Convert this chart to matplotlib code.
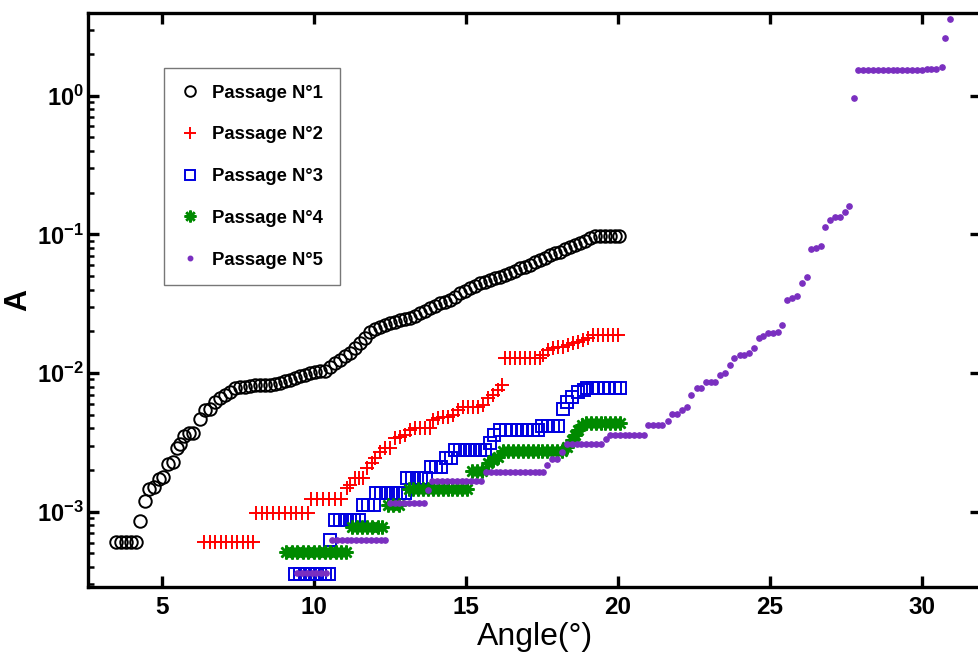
import math
import matplotlib
matplotlib.use("Agg")
import matplotlib.pyplot as plt
from matplotlib import font_manager
from matplotlib.ticker import FixedLocator, FuncFormatter, LogLocator, NullFormatter

# --- data (angle in degrees, A on log scale) ---
p1_x = [3.50, 3.67, 3.84, 4.00, 4.17, 4.30, 4.45, 4.60, 4.74, 4.93, 5.05, 5.22, 5.36,
        5.50, 5.62, 5.75, 5.90, 6.04, 6.26, 6.43, 6.59, 6.75, 6.92, 7.08, 7.25, 7.41,
        7.58, 7.74, 7.91, 8.07, 8.23, 8.40, 8.56, 8.72, 8.89, 9.05, 9.22, 9.38, 9.55,
        9.71, 9.88, 10.04, 10.20, 10.37, 10.54, 10.70, 10.87, 11.04, 11.20, 11.36,
        11.52, 11.69, 11.85, 12.02, 12.18, 12.35, 12.51, 12.67, 12.84, 13.00, 13.17,
        13.33, 13.50, 13.66, 13.82, 13.98, 14.15, 14.31, 14.48, 14.64, 14.81, 14.97,
        15.14, 15.30, 15.47, 15.63, 15.80, 15.96, 16.13, 16.29, 16.45, 16.62, 16.78,
        16.95, 17.11, 17.27, 17.44, 17.60, 17.77, 17.93, 18.10, 18.26, 18.42, 18.59,
        18.75, 18.91, 19.08, 19.24, 19.40, 19.57, 19.73, 19.89, 20.05]
p1_y = [6.1e-4, 6.1e-4, 6.1e-4, 6.1e-4, 6.1e-4, 8.6e-4, 1.20e-3, 1.45e-3, 1.50e-3,
        1.72e-3, 1.77e-3, 2.20e-3, 2.27e-3, 2.90e-3, 3.10e-3, 3.50e-3, 3.70e-3, 3.70e-3,
        4.70e-3, 5.40e-3, 5.55e-3, 6.20e-3, 6.60e-3, 6.95e-3, 7.30e-3, 7.75e-3, 7.90e-3,
        7.90e-3, 8.10e-3, 8.20e-3, 8.20e-3, 8.20e-3, 8.25e-3, 8.30e-3, 8.50e-3, 8.70e-3,
        8.90e-3, 9.20e-3, 9.50e-3, 9.75e-3, 9.95e-3, 1.01e-2, 1.03e-2, 1.04e-2, 1.11e-2,
        1.18e-2, 1.24e-2, 1.32e-2, 1.39e-2, 1.52e-2, 1.64e-2, 1.78e-2, 1.99e-2, 2.08e-2,
        2.16e-2, 2.22e-2, 2.29e-2, 2.35e-2, 2.42e-2, 2.45e-2, 2.48e-2, 2.58e-2, 2.70e-2,
        2.82e-2, 2.93e-2, 3.05e-2, 3.18e-2, 3.27e-2, 3.36e-2, 3.55e-2, 3.76e-2, 3.92e-2,
        4.08e-2, 4.25e-2, 4.44e-2, 4.56e-2, 4.69e-2, 4.82e-2, 4.95e-2, 5.10e-2, 5.24e-2,
        5.45e-2, 5.69e-2, 5.84e-2, 6.01e-2, 6.30e-2, 6.53e-2, 6.80e-2, 7.10e-2, 7.30e-2,
        7.50e-2, 7.80e-2, 8.10e-2, 8.40e-2, 8.70e-2, 9.00e-2, 9.40e-2, 9.70e-2, 9.80e-2,
        9.80e-2, 9.80e-2, 9.80e-2, 9.80e-2]

p2_x = [6.40, 6.58, 6.76, 6.94, 7.12, 7.30, 7.48, 7.66, 7.84, 8.02,
        8.10, 8.29, 8.48, 8.67, 8.86, 9.05, 9.24, 9.43, 9.62, 9.81,
        9.90, 10.10, 10.30, 10.50, 10.70, 10.90,
        11.09, 11.19, 11.36, 11.50, 11.63, 11.74, 11.91, 12.02, 12.18, 12.34, 12.51,
        12.67, 12.84, 13.00, 13.17, 13.33, 13.50, 13.66, 13.82, 13.93, 14.10, 14.26,
        14.42, 14.59, 14.75, 14.91, 15.08, 15.25, 15.41, 15.58, 15.74, 15.91, 16.07,
        16.18, 16.29, 16.45, 16.62, 16.78, 16.95, 17.11, 17.27, 17.44, 17.55, 17.71,
        17.88, 18.04, 18.20, 18.37, 18.53, 18.70, 18.86, 19.02, 19.19, 19.35, 19.52,
        19.68, 19.85, 20.01]
p2_y = [6.1e-4] * 10 + [9.75e-4] * 10 + [1.23e-3] * 6 + [
        1.48e-3, 1.56e-3, 1.74e-3, 1.74e-3, 1.74e-3, 2.06e-3, 2.23e-3, 2.43e-3, 2.71e-3,
        2.86e-3, 2.86e-3, 3.38e-3, 3.48e-3, 3.57e-3, 3.88e-3, 3.99e-3, 3.99e-3, 3.99e-3,
        3.99e-3, 4.58e-3, 4.71e-3, 4.84e-3, 4.84e-3, 4.98e-3, 5.41e-3, 5.71e-3, 5.71e-3,
        5.71e-3, 5.71e-3, 5.87e-3, 6.58e-3, 6.95e-3, 7.55e-3, 8.20e-3,
        1.28e-2, 1.28e-2, 1.28e-2, 1.28e-2, 1.28e-2, 1.28e-2, 1.28e-2, 1.28e-2,
        1.35e-2, 1.47e-2, 1.51e-2, 1.55e-2, 1.55e-2, 1.59e-2, 1.64e-2, 1.68e-2, 1.73e-2,
        1.78e-2, 1.88e-2, 1.88e-2, 1.88e-2, 1.88e-2, 1.88e-2, 1.88e-2]

p3_x = [9.40, 9.56, 9.72, 9.88, 10.04, 10.20, 10.36, 10.50, 10.54,
        10.70, 10.86, 11.02, 11.18, 11.34, 11.50, 11.62, 11.80, 11.98,
        12.05, 12.21, 12.37, 12.53, 12.69, 12.85, 13.01,
        13.06, 13.22, 13.38, 13.54, 13.70, 13.86, 14.02, 14.18, 14.34, 14.50,
        14.66, 14.82, 14.98, 15.14, 15.30, 15.46, 15.62, 15.78, 15.94,
        16.13, 16.31, 16.49, 16.67, 16.84, 17.02, 17.20, 17.38,
        17.52, 17.69, 17.86, 18.03, 18.19, 18.32, 18.48, 18.70, 18.87,
        19.00, 19.18, 19.36, 19.54, 19.72, 19.90, 20.08]
p3_y = [3.55e-4] * 8 + [6.25e-4] + [8.7e-4] * 6 + [1.12e-3] * 3 + [1.37e-3] * 7 + \
       [1.76e-3] * 5 + [2.11e-3] * 3 + [2.43e-3] * 2 + [2.79e-3] * 7 + \
       [3.11e-3, 3.57e-3] + [3.88e-3] * 8 + [4.15e-3] * 4 + \
       [5.47e-3, 6.21e-3, 6.75e-3, 7.33e-3, 7.55e-3] + [7.84e-3] * 7

p4_x = [9.10, 9.28, 9.46, 9.64, 9.82, 10.00, 10.18, 10.36, 10.54, 10.72, 10.90, 11.05,
        11.25, 11.42, 11.59, 11.76, 11.93, 12.10, 12.25,
        12.45, 12.62, 12.79,
        13.12, 13.28, 13.44, 13.60, 13.76, 13.92, 14.08, 14.24, 14.40, 14.56, 14.72,
        14.88, 15.04, 15.20, 15.36, 15.52, 15.74, 15.91, 16.07,
        16.23, 16.40, 16.56, 16.72, 16.88, 17.04, 17.20, 17.36, 17.52, 17.68, 17.84,
        18.00, 18.16, 18.32, 18.48, 18.59, 18.70, 18.81,
        18.95, 19.11, 19.27, 19.43, 19.59, 19.75, 19.91, 20.07]
p4_y = [5.15e-4] * 12 + [7.7e-4] * 7 + [1.12e-3] * 3 + [1.45e-3] * 13 + \
       [1.98e-3] * 3 + [2.23e-3, 2.36e-3, 2.49e-3] + [2.74e-3] * 13 + \
       [2.94e-3, 3.29e-3, 3.57e-3, 3.88e-3, 4.22e-3] + [4.34e-3] * 8

p5_x = [9.45, 9.61, 9.77, 9.93, 10.09, 10.25, 10.41,
        10.60, 10.76, 10.92, 11.08, 11.24, 11.40, 11.56, 11.72, 11.88, 12.04, 12.20, 12.36,
        12.50, 12.66, 12.82, 12.98, 13.14, 13.30, 13.46, 13.62, 13.77,
        13.90, 14.06, 14.22, 14.38, 14.54, 14.70, 14.86, 15.02, 15.18, 15.34, 15.50,
        15.66, 15.82, 15.98, 16.14, 16.30, 16.46, 16.62, 16.78, 16.94, 17.10, 17.26,
        17.42, 17.55, 17.66, 17.83, 17.99, 18.16,
        18.32, 18.48, 18.64, 18.80, 18.96, 19.12, 19.28, 19.44, 19.61,
        19.74, 19.90, 20.06, 20.22, 20.38, 20.54, 20.70, 20.86,
        21.00, 21.16, 21.32, 21.45, 21.64, 21.77, 21.96, 22.10, 22.27, 22.41, 22.60,
        22.73, 22.90, 23.07, 23.20, 23.36, 23.52, 23.69, 23.83, 24.00, 24.16, 24.31,
        24.48, 24.63, 24.78, 24.95, 25.11, 25.26, 25.40, 25.56, 25.72, 25.88, 26.05,
        26.21, 26.35, 26.52, 26.68, 26.82, 26.98, 27.14, 27.31, 27.47, 27.61, 27.77,
        27.91, 28.07, 28.23, 28.39, 28.55, 28.71, 28.87, 29.03, 29.19, 29.35, 29.51,
        29.67, 29.83, 29.99, 30.15, 30.31, 30.45, 30.64, 30.75, 30.91]
p5_y = [3.6e-4] * 7 + [6.3e-4] * 12 + [1.15e-3] * 8 + [1.44e-3] + [1.67e-3] * 11 + \
       [1.94e-3] * 13 + [2.17e-3, 2.39e-3, 2.39e-3, 2.71e-3] + [3.08e-3] * 8 + \
       [3.33e-3] + [3.6e-3] * 8 + [4.2e-3] * 4 + [
        4.50e-3, 5.07e-3, 5.07e-3, 5.42e-3, 5.69e-3, 6.90e-3, 7.82e-3, 7.82e-3, 8.67e-3,
        8.67e-3, 8.67e-3, 9.62e-3, 9.96e-3, 1.14e-2, 1.29e-2, 1.36e-2, 1.36e-2, 1.40e-2,
        1.51e-2, 1.79e-2, 1.84e-2, 1.95e-2, 1.95e-2, 1.97e-2, 2.23e-2, 3.38e-2, 3.50e-2,
        3.62e-2, 4.46e-2, 4.94e-2, 7.89e-2, 8.00e-2, 8.18e-2, 1.13e-1, 1.28e-1, 1.33e-1,
        1.33e-1, 1.44e-1, 1.60e-1, 0.97] + [1.53] * 14 + [1.55, 1.55, 1.56] + \
       [1.62, 2.62, 3.57]

labels = ["Passage N°1", "Passage N°2", "Passage N°3", "Passage N°4", "Passage N°5"]
x_ticks = [5, 10, 15, 20, 25, 30]
y_ticks = [1e-3, 1e-2, 1e-1, 1e0]

# fonts: narrow bold for the tick labels if available
names = {f.name for f in font_manager.fontManager.ttflist}
narrow = "Liberation Sans Narrow" if "Liberation Sans Narrow" in names else "Liberation Sans"
plt.rcParams["font.family"] = ["Liberation Sans", "DejaVu Sans"]
plt.rcParams["mathtext.fontset"] = "custom"
plt.rcParams["mathtext.bf"] = narrow + ":bold"
plt.rcParams["mathtext.rm"] = narrow + ":bold"

fig = plt.figure(figsize=(9.79, 6.54), dpi=100)
ax = fig.add_axes([0.0902, 0.1029, 0.9119, 0.8777])

ax.plot(p1_x, p1_y, "o", ms=9, mfc="none", mec="black", mew=1.4, label=labels[0])
ax.plot(p2_x, p2_y, "+", ms=10, mec="#ff0000", mew=1.4, label=labels[1])
ax.plot(p3_x, p3_y, "s", ms=9, mfc="none", mec="#0000e0", mew=1.4, label=labels[2])
ax.plot(p4_x, p4_y, ls="none", marker=(8, 2, 0), ms=10, mec="#008a00", mew=1.8,
        label=labels[3])
ax.plot(p5_x, p5_y, "o", ms=3.8, mfc="#7a2fc0", mec="#7a2fc0", label=labels[4])

ax.set_yscale("log")
ax.set_xlim(2.59, 31.94)
ax.set_ylim(2.88e-4, 3.97)

ax.xaxis.set_major_locator(FixedLocator(x_ticks))
ax.yaxis.set_major_locator(FixedLocator(y_ticks))
ax.yaxis.set_minor_locator(LogLocator(base=10, subs=range(2, 10)))
ax.yaxis.set_minor_formatter(NullFormatter())
ax.xaxis.set_minor_locator(FixedLocator([]))
ax.yaxis.set_major_formatter(FuncFormatter(
    lambda v, _: r"$\mathbf{10^{%d}}$" % round(math.log10(v))))

for s in ax.spines.values():
    s.set_linewidth(2.4)
ax.tick_params(which="major", direction="in", length=8, width=2.4,
               top=True, right=True)
ax.tick_params(which="minor", direction="in", length=4.5, width=1.8,
               left=True, right=False)
ax.tick_params(axis="x", pad=7, labelsize=17.5)
ax.tick_params(axis="y", pad=3, labelsize=17)
for t in ax.get_xticklabels():
    t.set_fontfamily(narrow)
    t.set_fontweight("bold")

ax.set_xlabel("Angle(°)", fontsize=23, labelpad=2)
ax.set_ylabel("A", fontsize=22, fontweight="bold")
ax.yaxis.set_label_coords(-0.062, 0.5)

leg = ax.legend(loc="upper left", bbox_to_anchor=(164 / 979, 1 - 68 / 654),
                bbox_transform=fig.transFigure, borderaxespad=0, fancybox=False,
                edgecolor="#777777", framealpha=1, markerscale=0.85,
                prop={"weight": "bold", "size": 13.3}, handlelength=1.0,
                handletextpad=0.7, labelspacing=1.34, borderpad=0.9)
leg.get_frame().set_linewidth(1.0)

fig.savefig("out.png", dpi=100)
